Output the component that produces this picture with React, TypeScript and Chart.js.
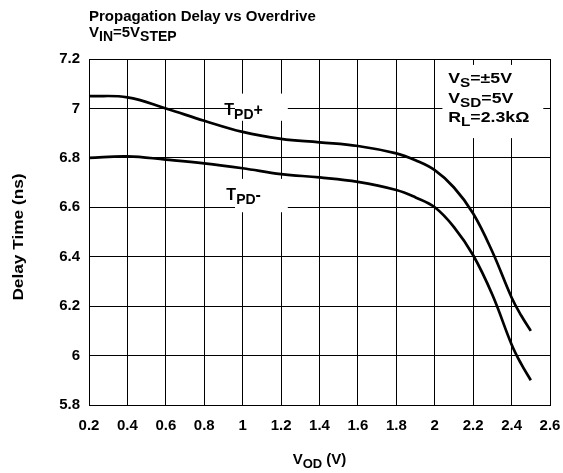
import React, { useEffect, useRef } from "react";
import { Chart, registerables } from "chart.js";

Chart.register(...registerables);

const vodValues = [0.2, 0.4, 0.6, 0.8, 1.0, 1.2, 1.4, 1.6, 1.8, 1.9, 2.0, 2.1, 2.2, 2.3, 2.4, 2.45, 2.5];
const tpdPlus = [7.05, 7.045, 7.0, 6.95, 6.905, 6.877, 6.863, 6.848, 6.818, 6.79, 6.75, 6.68, 6.575, 6.42, 6.235, 6.162, 6.1];
const tpdMinus = [6.8, 6.806, 6.793, 6.778, 6.758, 6.734, 6.721, 6.703, 6.67, 6.64, 6.6, 6.52, 6.406, 6.246, 6.045, 5.966, 5.9];

const xMin = 0.2;
const xMax = 2.6;
const yMin = 5.8;
const yMax = 7.2;
const step = 0.2;

const FONT = "'Liberation Sans', Arial, sans-serif";

type Part = { t: string; sub?: boolean };

function partsWidth(ctx: CanvasRenderingContext2D, parts: Part[], size: number, subSize: number) {
  let w = 0;
  for (const p of parts) {
    ctx.font = `bold ${p.sub ? subSize : size}px ${FONT}`;
    w += ctx.measureText(p.t).width;
  }
  return w;
}

function drawParts(
  ctx: CanvasRenderingContext2D,
  parts: Part[],
  x: number,
  y: number,
  size: number,
  subSize: number,
  align: "left" | "center" = "left",
  sx = 1
) {
  const w = partsWidth(ctx, parts, size, subSize) * sx;
  const startX = align === "center" ? x - w / 2 : x;
  ctx.save();
  ctx.translate(startX, y);
  ctx.scale(sx, 1);
  ctx.textAlign = "left";
  ctx.textBaseline = "alphabetic";
  ctx.fillStyle = "#000";
  let cx = 0;
  for (const p of parts) {
    ctx.font = `bold ${p.sub ? subSize : size}px ${FONT}`;
    ctx.fillText(p.t, cx, p.sub ? Math.round(size * 0.28) : 0);
    cx += ctx.measureText(p.t).width;
  }
  ctx.restore();
}

const annotationPlugin = {
  id: "annotations",
  beforeDatasetsDraw(chart: any) {
    const ctx = chart.ctx as CanvasRenderingContext2D;
    const xs = chart.scales.x;
    const ys = chart.scales.y;
    ctx.save();
    ctx.fillStyle = "#fff";
    // conditions box
    const lx0 = xs.getPixelForValue(2.04);
    const lx1 = xs.getPixelForValue(2.565);
    const ly0 = ys.getPixelForValue(7.176);
    const ly1 = ys.getPixelForValue(6.88);
    ctx.fillRect(lx0, ly0, lx1 - lx0, ly1 - ly0);
    // T_PD+ box
    const px0 = xs.getPixelForValue(0.96);
    const px1 = xs.getPixelForValue(1.235);
    ctx.fillRect(px0, ys.getPixelForValue(7.06), px1 - px0, ys.getPixelForValue(6.95) - ys.getPixelForValue(7.06));
    // T_PD- box
    ctx.fillRect(px0, ys.getPixelForValue(6.715), px1 - px0, ys.getPixelForValue(6.58) - ys.getPixelForValue(6.715));
    ctx.restore();
  },
  afterDraw(chart: any) {
    const ctx = chart.ctx as CanvasRenderingContext2D;
    const xs = chart.scales.x;
    const ys = chart.scales.y;
    const area = chart.chartArea;
    ctx.save();
    // Title
    drawParts(ctx, [{ t: "Propagation Delay vs Overdrive" }], 89, 21, 15, 12);
    drawParts(ctx, [{ t: "V" }, { t: "IN", sub: true }, { t: "=5V" }, { t: "STEP", sub: true }], 89, 37, 15, 14);
    // Curve labels
    const cx = xs.getPixelForValue(1.005);
    drawParts(ctx, [{ t: "T" }, { t: "PD", sub: true }, { t: "+" }], cx, ys.getPixelForValue(6.973), 16, 14, "center");
    drawParts(ctx, [{ t: "T" }, { t: "PD", sub: true }, { t: "-" }], cx, ys.getPixelForValue(6.629), 16, 14, "center");
    // Conditions
    const lx = xs.getPixelForValue(2.07);
    drawParts(ctx, [{ t: "V" }, { t: "S", sub: true }, { t: "=±5V" }], lx, ys.getPixelForValue(7.103), 15, 13, "left", 1.18);
    drawParts(ctx, [{ t: "V" }, { t: "SD", sub: true }, { t: "=5V" }], lx, ys.getPixelForValue(7.022), 15, 13, "left", 1.18);
    drawParts(ctx, [{ t: "R" }, { t: "L", sub: true }, { t: "=2.3kΩ" }], lx, ys.getPixelForValue(6.945), 15, 13, "left", 1.18);
    // X axis title
    drawParts(ctx, [{ t: "V" }, { t: "OD", sub: true }, { t: " (V)" }], (area.left + area.right) / 2, 464, 15, 13, "center");
    // Y axis title
    ctx.translate(23, 237);
    ctx.rotate(-Math.PI / 2);
    drawParts(ctx, [{ t: "Delay Time (ns)" }], 0, 0, 15, 12, "center", 1.15);
    ctx.restore();
  },
};

const fmt = (v: any) => String(+Number(v).toFixed(1));

export default function App() {
  const ref = useRef<HTMLCanvasElement | null>(null);

  useEffect(() => {
    document.body.style.margin = "0";
    const canvas = ref.current;
    if (!canvas) return;
    const chart = new Chart(canvas, {
      type: "line",
      data: {
        datasets: [
          {
            label: "TPD+",
            data: vodValues.map((x, i) => ({ x, y: tpdPlus[i] })),
            borderColor: "#000",
            borderWidth: 2.7,
            pointRadius: 0,
            tension: 0.4,
            fill: false,
          },
          {
            label: "TPD-",
            data: vodValues.map((x, i) => ({ x, y: tpdMinus[i] })),
            borderColor: "#000",
            borderWidth: 2.7,
            pointRadius: 0,
            tension: 0.4,
            fill: false,
          },
        ],
      },
      options: {
        responsive: false,
        animation: false,
        devicePixelRatio: 1,
        layout: { padding: { top: 59, right: 13, bottom: 0, left: 0 } },
        plugins: {
          legend: { display: false },
          title: { display: false },
          tooltip: { enabled: false },
        },
        scales: {
          x: {
            type: "linear",
            min: xMin,
            max: xMax,
            afterFit: (s: any) => {
              s.height = 68;
              s.paddingLeft = 0;
              s.paddingRight = 0;
            },
            ticks: {
              stepSize: step,
              callback: fmt,
              color: "#000",
              font: { family: FONT, size: 15, weight: "bold" },
              padding: 12,
              maxRotation: 0,
              autoSkip: false,
            },
            grid: { color: "#000", lineWidth: 1, drawTicks: false },
            border: { color: "#000", width: 1 },
          },
          y: {
            type: "linear",
            min: yMin,
            max: yMax,
            afterFit: (s: any) => {
              s.width = 89;
              s.paddingTop = 0;
              s.paddingBottom = 0;
            },
            ticks: {
              stepSize: step,
              callback: fmt,
              color: "#000",
              font: { family: FONT, size: 15, weight: "bold" },
              padding: 9,
              autoSkip: false,
            },
            grid: { color: "#000", lineWidth: 1, drawTicks: false },
            border: { color: "#000", width: 1 },
          },
        },
      },
      plugins: [annotationPlugin],
    } as any);
    return () => chart.destroy();
  }, []);

  return (
    <div style={{ position: "absolute", left: 0, top: 0, width: 563, height: 473, background: "#fff" }}>
      <canvas ref={ref} width={563} height={473} style={{ width: 563, height: 473 }} />
    </div>
  );
}
